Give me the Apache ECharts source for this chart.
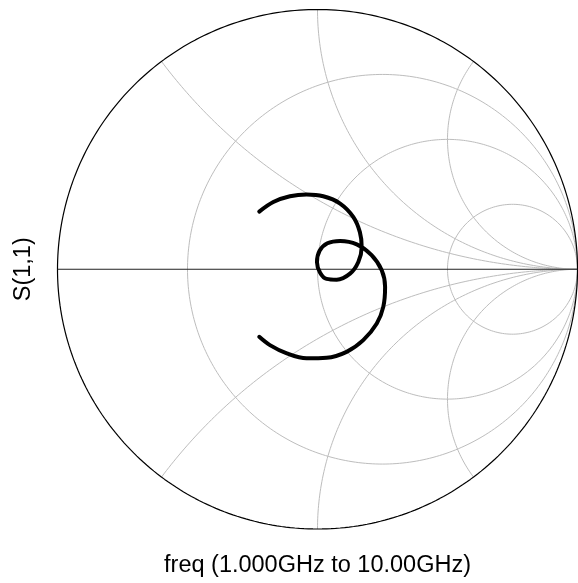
<!DOCTYPE html>
<html>
<head>
<meta charset="utf-8">
<script src="https://cdn.jsdelivr.net/npm/echarts@6/dist/echarts.min.js"></script>
<style>
  html, body { margin: 0; padding: 0; background: #fff; }
  #chart { width: 578px; height: 583px; }
</style>
</head>
<body>
<div id="chart"></div>
<script>
// Reflection coefficient S(1,1), real and imaginary parts, 1 GHz -> 10 GHz
var s11Re = [-0.224, -0.170, -0.106, -0.042, 0.022, 0.087, 0.138, 0.163, 0.170, 0.157,
             0.125, 0.074, 0.035, 0.010, -0.002, 0.008, 0.038, 0.087, 0.151, 0.208,
             0.247, 0.260, 0.253, 0.228, 0.176, 0.112, 0.035, -0.042, -0.118, -0.183,
             -0.224];
var s11Im = [0.222, 0.259, 0.281, 0.288, 0.281, 0.253, 0.201, 0.143, 0.086, 0.028,
             -0.017, -0.040, -0.037, -0.013, 0.027, 0.071, 0.100, 0.109, 0.096, 0.054,
             -0.004, -0.068, -0.145, -0.209, -0.273, -0.318, -0.341, -0.343, -0.324, -0.292,
             -0.260];

// Smith chart grid values (normalized impedance)
var resistanceCircles = [1 / 3, 1, 3];
var reactanceArcs = [0.5, 1, 2];

var xLabel = 'freq (1.000GHz to 10.00GHz)';
var yLabel = 'S(1,1)';

// Constant-resistance circle: centre (r/(r+1), 0), radius 1/(r+1)
function resistanceCircle(r) {
  var cx = r / (r + 1), rad = 1 / (r + 1), pts = [];
  for (var i = 0; i <= 360; i++) {
    var a = i * Math.PI / 180;
    pts.push([cx + rad * Math.cos(a), rad * Math.sin(a)]);
  }
  return pts;
}

// Constant-reactance arc inside the unit circle: centre (1, 1/x), radius 1/|x|
function reactanceArc(x) {
  var ax = Math.abs(x), rad = 1 / ax;
  var g0x = (ax * ax - 1) / (ax * ax + 1), g0y = 2 * ax / (ax * ax + 1);
  var phi0 = Math.atan2(g0y - rad, g0x - 1);
  if (phi0 < 0) phi0 += 2 * Math.PI;
  var phi1 = 1.5 * Math.PI, n = 240, pts = [];
  for (var i = 0; i <= n; i++) {
    var p = phi0 + (phi1 - phi0) * i / n;
    var px = 1 + rad * Math.cos(p), py = rad + rad * Math.sin(p);
    pts.push([px, x < 0 ? -py : py]);
  }
  return pts;
}

var gridStyle = { color: '#bdbdbd', width: 1 };
var series = [];

function addLine(data, style, z) {
  series.push({
    type: 'line', data: data, showSymbol: false, silent: true,
    lineStyle: style, z: z, animation: false, clip: false
  });
}

resistanceCircles.forEach(function (r) { addLine(resistanceCircle(r), gridStyle, 1); });
reactanceArcs.forEach(function (x) {
  addLine(reactanceArc(x), gridStyle, 1);
  addLine(reactanceArc(-x), gridStyle, 1);
});
// Outer boundary (r = 0) and the real axis (x = 0)
addLine(resistanceCircle(0), { color: '#000', width: 1.2 }, 2);
addLine([[-1, 0], [1, 0]], { color: '#222', width: 1 }, 2);

// S(1,1) trace
series.push({
  type: 'line',
  data: s11Re.map(function (v, i) { return [v, s11Im[i]]; }),
  showSymbol: false,
  smooth: 0.35,
  lineStyle: { color: '#000', width: 4, cap: 'round', join: 'round' },
  z: 5,
  animation: false
});

var font = "'Liberation Sans', Arial, sans-serif";

var chart = echarts.init(document.getElementById('chart'), null, { renderer: 'canvas' });
chart.setOption({
  backgroundColor: '#fff',
  animation: false,
  grid: { left: 57.5, top: 9.5, width: 520, height: 520 },
  xAxis: {
    type: 'value', min: -1, max: 1,
    name: xLabel, nameLocation: 'middle', nameGap: 25,
    nameTextStyle: { fontFamily: font, fontSize: 23.5, color: '#000' },
    axisLine: { show: false }, axisTick: { show: false },
    axisLabel: { show: false }, splitLine: { show: false }
  },
  yAxis: {
    type: 'value', min: -1, max: 1,
    name: yLabel, nameLocation: 'middle', nameGap: 22, nameRotate: 90,
    nameTextStyle: { fontFamily: font, fontSize: 23.5, color: '#000' },
    axisLine: { show: false }, axisTick: { show: false },
    axisLabel: { show: false }, splitLine: { show: false }
  },
  series: series
});
</script>
</body>
</html>
